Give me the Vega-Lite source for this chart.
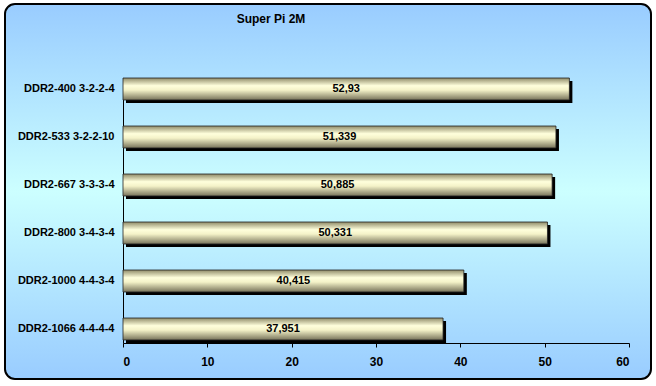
{
  "$schema": "https://vega.github.io/schema/vega-lite/v6.json",
  "width": 646,
  "height": 375,
  "autosize": {"type": "none"},
  "padding": {"left": 5, "top": 4, "right": 5, "bottom": 7},
  "background": "white",
  "title": {
    "text": "Super Pi 2M",
    "orient": "top",
    "anchor": "middle",
    "offset": -22,
    "dx": -57,
    "font": "Liberation Sans",
    "fontSize": 12,
    "fontWeight": "bold",
    "color": "black"
  },
  "config": {
    "locale": {"number": {"decimal": ",", "thousands": ".", "grouping": [3], "currency": ["", " €"]}},
    "view": {
      "fill": {
        "gradient": "linear",
        "x1": 0, "y1": 0, "x2": 0, "y2": 1,
        "stops": [
          {"offset": 0, "color": "#99ccff"},
          {"offset": 0.5, "color": "#ccffff"},
          {"offset": 1, "color": "#99ccff"}
        ]
      },
      "stroke": "black",
      "strokeWidth": 2,
      "cornerRadius": 10
    },
    "axis": {
      "labelFont": "Liberation Sans",
      "labelFontSize": 11,
      "labelFontWeight": "bold",
      "labelColor": "black",
      "domainColor": "black",
      "domainWidth": 1,
      "tickColor": "black",
      "grid": false,
      "title": null
    }
  },
  "data": {
    "values": [
      {"config": "DDR2-400 3-2-2-4", "value": 52.93},
      {"config": "DDR2-533 3-2-2-10", "value": 51.339},
      {"config": "DDR2-667 3-3-3-4", "value": 50.885},
      {"config": "DDR2-800 3-4-3-4", "value": 50.331},
      {"config": "DDR2-1000 4-4-3-4", "value": 40.415},
      {"config": "DDR2-1066 4-4-4-4", "value": 37.951}
    ]
  },
  "encoding": {
    "y": {
      "field": "config",
      "type": "nominal",
      "sort": null,
      "scale": {"range": [74, 339], "paddingInner": 0.5417, "paddingOuter": 0.03125, "align": 0},
      "axis": {"offset": -118, "ticks": false, "labelPadding": 9}
    }
  },
  "layer": [
    {
      "encoding": {
        "x": {
          "field": "value",
          "type": "quantitative",
          "scale": {"domain": [0, 60], "range": [118, 624], "nice": false},
          "axis": {"values": [0, 10, 20, 30, 40, 50, 60], "offset": -36, "tickSize": 4, "labelPadding": 9, "labelFontSize": 12}
        }
      },
      "layer": [
        {
          "mark": {"type": "bar", "color": "black", "xOffset": 3, "yOffset": 3}
        },
        {
          "mark": {
            "type": "bar",
            "stroke": "#222222",
            "strokeWidth": 0.8,
            "color": {
              "gradient": "linear",
              "x1": 0, "y1": 0, "x2": 0, "y2": 1,
              "stops": [
                {"offset": 0, "color": "#8f8b68"},
                {"offset": 0.35, "color": "#ffffdc"},
                {"offset": 0.55, "color": "#f4f2c8"},
                {"offset": 1, "color": "#77735a"}
              ]
            }
          }
        }
      ]
    },
    {
      "mark": {
        "type": "text",
        "font": "Liberation Sans",
        "fontSize": 11,
        "fontWeight": "bold",
        "color": "black",
        "align": "center",
        "baseline": "middle"
      },
      "encoding": {
        "x": {
          "field": "value",
          "type": "quantitative",
          "scale": {"domain": [0, 120], "range": [118, 624], "nice": false},
          "axis": null
        },
        "text": {"field": "value", "type": "quantitative", "format": "~r"}
      }
    }
  ],
  "resolve": {"scale": {"x": "independent"}}
}
